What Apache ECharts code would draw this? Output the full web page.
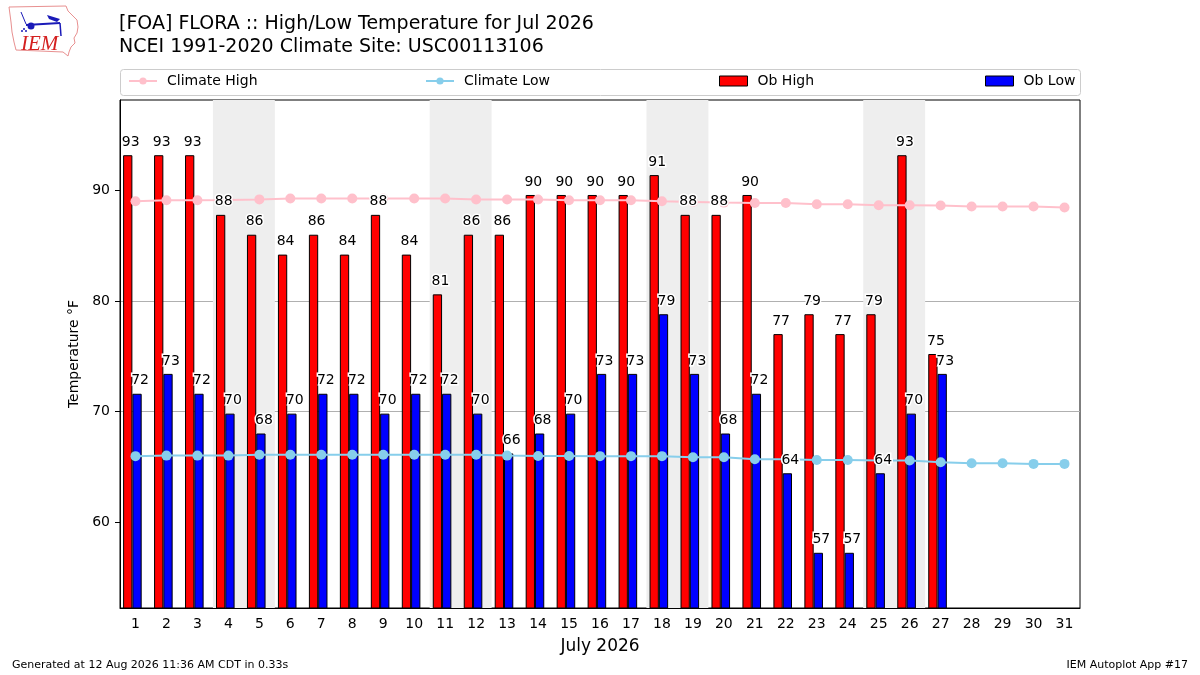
<!DOCTYPE html>
<html>
<head>
<meta charset="utf-8">
<title>FLORA High/Low Temperature</title>
<script src="https://cdn.jsdelivr.net/npm/echarts@6/dist/echarts.min.js"></script>
<style>
  html, body { margin: 0; padding: 0; background: #fff; }
</style>
</head>
<body>
<div id="main" style="width: 1200px;height:675px;"></div>
<script type="text/javascript">
// day of month labels
var days = [];
for (var d = 1; d <= 31; d++) days.push(String(d));

// observed values (F), days 28-31 not yet observed
var obHigh = [93.2, 93.2, 93.2, 87.8, 86, 84.2, 86, 84.2, 87.8, 84.2, 80.6, 86, 86, 89.6, 89.6, 89.6,
  89.6, 91.4, 87.8, 87.8, 89.6, 77, 78.8, 77, 78.8, 93.2, 75.2, null, null, null, null];
var obLow = [71.6, 73.4, 71.6, 69.8, 68, 69.8, 71.6, 71.6, 69.8, 71.6, 71.6, 69.8, 66.2, 68, 69.8, 73.4,
  73.4, 78.8, 73.4, 68, 71.6, 64.4, 57.2, 57.2, 64.4, 69.8, 73.4, null, null, null, null];

// 1991-2020 climatology
var climateHigh = [89.03, 89.12, 89.12, 89.15, 89.2, 89.28, 89.28, 89.28, 89.28, 89.28, 89.28, 89.19, 89.19,
  89.19, 89.12, 89.12, 89.12, 89.03, 88.97, 88.91, 88.88, 88.88, 88.76, 88.76, 88.67, 88.67, 88.64,
  88.55, 88.55, 88.55, 88.46];
var climateLow = [65.95, 66.0, 66.0, 66.0, 66.07, 66.07, 66.07, 66.07, 66.07, 66.07, 66.07, 66.07, 66.0,
  65.97, 65.97, 65.95, 65.95, 65.95, 65.85, 65.85, 65.67, 65.67, 65.6, 65.6, 65.55, 65.55, 65.4,
  65.3, 65.3, 65.25, 65.25];

// saturdays / sundays of Jul 2026
var weekendDays = [4, 5, 11, 12, 18, 19, 25, 26];
var yTicks = [60, 70, 80, 90];

var FONT = 'DejaVu Sans';
var myChart = echarts.init(document.getElementById('main'));

function numbers(a) { return a.filter(function (v) { return v != null; }); }
var yMin = Math.min.apply(null, numbers(obLow)) - 5;
var yMax = Math.max.apply(null, numbers(obHigh)) + 5;

// merge consecutive weekend days into one shaded block
var shade = [];
weekendDays.forEach(function (d) {
  var last = shade[shade.length - 1];
  if (last && last[1].xAxis === d - 0.5) last[1].xAxis = d + 0.5;
  else shade.push([{ xAxis: d - 0.5 }, { xAxis: d + 0.5 }]);
});

function barLabel() {
  return {
    show: true,
    position: 'top',
    distance: 6,
    offset: [3, 0],
    color: '#000',
    fontSize: 14,
    fontFamily: FONT,
    textBorderColor: '#fff',
    textBorderWidth: 3,
    formatter: function (p) { return Math.round(p.value); }
  };
}

function legendText() {
  return { fontSize: 14, color: '#000', padding: [0, 0, 0, 5] };
}

var option = {
  animation: false,
  backgroundColor: '#fff',
  textStyle: { fontFamily: FONT },
  title: {
    text: '[FOA] FLORA :: High/Low Temperature for Jul 2026\nNCEI 1991-2020 Climate Site: USC00113106',
    left: 119,
    top: 13,
    padding: 0,
    textStyle: { fontSize: 19, fontWeight: 'normal', color: '#000', lineHeight: 23, fontFamily: FONT }
  },
  legend: [
    { data: ['Climate High'], left: 128, top: 74, padding: 0, itemWidth: 28, itemHeight: 9, textStyle: legendText() },
    { data: ['Climate Low'], left: 425, top: 74, padding: 0, itemWidth: 28, itemHeight: 9, textStyle: legendText() },
    { data: ['Ob High'], left: 719, top: 74, padding: 0, itemWidth: 28, itemHeight: 10, icon: 'rect',
      itemStyle: { borderColor: '#000', borderWidth: 1 }, textStyle: legendText() },
    { data: ['Ob Low'], left: 985, top: 74, padding: 0, itemWidth: 28, itemHeight: 10, icon: 'rect',
      itemStyle: { borderColor: '#000', borderWidth: 1 }, textStyle: legendText() }
  ],
  grid: {
    left: 120, right: 120, top: 100, bottom: 67,
    show: true, borderColor: '#000', borderWidth: 1, backgroundColor: 'transparent'
  },
  xAxis: [
    {
      type: 'category', data: days,
      name: 'July 2026', nameLocation: 'middle', nameGap: 30,
      nameTextStyle: { fontSize: 17, color: '#000' },
      axisLine: { lineStyle: { color: '#000' } },
      axisTick: { alignWithLabel: true, length: 5, lineStyle: { color: '#000' } },
      axisLabel: { fontSize: 14, color: '#000', margin: 9, interval: 0 },
      splitLine: { show: false }
    },
    { type: 'value', min: 0.5, max: 31.5, show: false, gridIndex: 0 },
    { type: 'category', data: days, show: false, gridIndex: 0 }
  ],
  yAxis: {
    type: 'value', min: yMin, max: yMax,
    name: 'Temperature °F', nameLocation: 'middle', nameGap: 34,
    nameTextStyle: { fontSize: 14, color: '#000' },
    axisLine: { show: true, lineStyle: { color: '#000' } },
    axisTick: { show: true, length: 5, customValues: yTicks, lineStyle: { color: '#000' } },
    axisLabel: { fontSize: 14, color: '#000', margin: 10, customValues: yTicks },
    splitLine: { show: true, showMinLine: false, showMaxLine: false, lineStyle: { color: '#b0b0b0', width: 1 } }
  },
  series: [
    {
      name: 'weekend', type: 'line', xAxisIndex: 1, data: [], z: -1, silent: true,
      markArea: { silent: true, itemStyle: { color: '#eeeeee' }, data: shade }
    },
    {
      name: 'Ob High', type: 'bar', data: obHigh, barWidth: '30%', barGap: 0, z: 2,
      itemStyle: { color: '#ff0000', borderColor: '#000', borderWidth: 1 }
    },
    {
      name: 'Ob Low', type: 'bar', data: obLow, barWidth: '30%', barGap: 0, z: 2,
      itemStyle: { color: '#0000ff', borderColor: '#000', borderWidth: 1 }
    },
    // empty slot so the pair sits left of the tick as in the original
    { name: 'pad', type: 'bar', data: [], barWidth: '20%', barGap: 0, z: 2 },
    {
      name: 'Climate High', type: 'line', data: climateHigh, z: 3,
      symbol: 'circle', symbolSize: 10,
      lineStyle: { color: '#ffc0cb', width: 2 }, itemStyle: { color: '#ffc0cb' }
    },
    {
      name: 'Climate Low', type: 'line', data: climateLow, z: 3,
      symbol: 'circle', symbolSize: 10,
      lineStyle: { color: '#87ceeb', width: 2 }, itemStyle: { color: '#87ceeb' }
    },
    // value labels drawn above the climate lines
    {
      name: 'lblHigh', type: 'bar', xAxisIndex: 2, data: obHigh, barWidth: '30%', barGap: 0, z: 5, silent: true,
      itemStyle: { color: 'transparent', borderWidth: 0 }, label: barLabel()
    },
    {
      name: 'lblLow', type: 'bar', xAxisIndex: 2, data: obLow, barWidth: '30%', barGap: 0, z: 5, silent: true,
      itemStyle: { color: 'transparent', borderWidth: 0 }, label: barLabel()
    },
    { name: 'lblPad', type: 'bar', xAxisIndex: 2, data: [], barWidth: '20%', barGap: 0, z: 5 }
  ],
  graphic: [
    {
      type: 'rect', left: 120, top: 69, z: -2, silent: true,
      shape: { width: 960, height: 26, r: 3 },
      style: { fill: '#fff', stroke: '#cccccc', lineWidth: 1 }
    },
    {
      type: 'text', left: 12, top: 660, silent: true,
      style: { text: 'Generated at 12 Aug 2026 11:36 AM CDT in 0.33s', fontSize: 11, fill: '#000', fontFamily: FONT }
    },
    {
      type: 'text', right: 12, top: 660, silent: true,
      style: { text: 'IEM Autoplot App #17', fontSize: 11, fill: '#000', fontFamily: FONT }
    },
    // IEM logo
    {
      type: 'group', x: 0, y: 0, silent: true,
      children: [
        {
          type: 'polyline',
          shape: { points: [[9, 7], [66, 6], [68, 11], [73, 16], [77, 20], [78, 27], [77, 33], [74, 38],
            [75, 43], [71, 47], [69, 52], [68, 56], [63, 52], [16, 50], [14, 42], [12, 32], [11, 22], [9, 7]] },
          style: { stroke: '#e89090', lineWidth: 1, fill: '#fff' }
        },
        { type: 'line', shape: { x1: 26, y1: 25, x2: 60, y2: 23 }, style: { stroke: '#1a1ab8', lineWidth: 2 } },
        { type: 'circle', shape: { cx: 31, cy: 26, r: 3.5 }, style: { fill: '#1a1ab8' } },
        { type: 'polygon', shape: { points: [[47, 15], [60, 19], [57, 22], [49, 19]] }, style: { fill: '#1a1ab8' } },
        { type: 'line', shape: { x1: 60, y1: 23, x2: 61, y2: 36 }, style: { stroke: '#1a1ab8', lineWidth: 1.5 } },
        { type: 'line', shape: { x1: 26, y1: 24, x2: 21, y2: 12 }, style: { stroke: '#1a1ab8', lineWidth: 1 } },
        { type: 'circle', shape: { cx: 24, cy: 29, r: 1 }, style: { fill: '#1a1ab8' } },
        { type: 'circle', shape: { cx: 22, cy: 31, r: 1 }, style: { fill: '#1a1ab8' } },
        { type: 'circle', shape: { cx: 26, cy: 31, r: 1 }, style: { fill: '#1a1ab8' } },
        {
          type: 'text', x: 21, y: 34,
          style: { text: 'IEM', fontSize: 21, fontStyle: 'italic', fontFamily: 'Liberation Serif', fill: '#d42020' }
        }
      ]
    }
  ]
};

myChart.setOption(option);
</script>
</body>
</html>
